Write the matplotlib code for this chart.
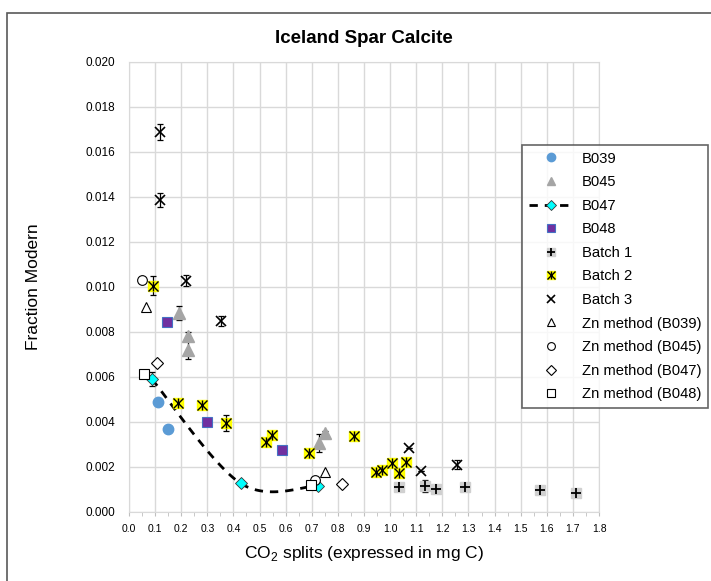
import numpy as np
import matplotlib
matplotlib.use("Agg")
import matplotlib.pyplot as plt
from matplotlib.patches import Rectangle

plt.rcParams['font.family'] = ['Liberation Sans', 'DejaVu Sans']
plt.rcParams['mathtext.fontset'] = 'custom'
plt.rcParams['mathtext.rm'] = 'Liberation Sans'

# data
b039_x = [0.110, 0.148]
b039_y = [0.00488, 0.00369]

b045_x = [0.190, 0.227, 0.226, 0.729, 0.751]
b045_y = [0.00885, 0.00780, 0.00722, 0.00305, 0.00352]
b045_err = [0.0003, 0.0002, 0.0004, 0.0004, 0.0001]

b047_x = [0.088, 0.428, 0.725]
b047_y = [0.00590, 0.00127, 0.00117]
b047_err = [0.0003, 0.0, 0.0]

b048_x = [0.147, 0.298, 0.587]
b048_y = [0.00843, 0.00399, 0.00274]

batch1_x = [1.034, 1.135, 1.174, 1.287, 1.575, 1.712]
batch1_y = [0.00110, 0.00114, 0.00104, 0.00110, 0.00098, 0.00083]
batch1_err = [0.0, 0.00027, 0.0, 0.0, 0.0, 0.0]

batch2_x = [0.091, 0.186, 0.280, 0.372, 0.524, 0.547, 0.690, 0.862,
            0.945, 0.968, 1.006, 1.034, 1.060]
batch2_y = [0.01006, 0.00483, 0.00476, 0.00394, 0.00310, 0.00340, 0.00264,
            0.00339, 0.00176, 0.00185, 0.00216, 0.00175, 0.00220]
batch2_err = [0.00043, 0.0001, 0.0001, 0.00036, 0.0001, 0.0001, 0.0001,
              0.0001, 0.0001, 0.0001, 0.0001, 0.0001, 0.0001]

batch3_x = [0.119, 0.119, 0.217, 0.352, 1.073, 1.118, 1.256]
batch3_y = [0.01690, 0.01387, 0.01028, 0.00850, 0.00286, 0.00182, 0.00209]
batch3_err = [0.00036, 0.0003, 0.00025, 0.00023, 0.0, 0.0, 0.0002]

zn039_x = [0.065, 0.751]
zn039_y = [0.00910, 0.00179]
zn045_x = [0.051, 0.713]
zn045_y = [0.01030, 0.00142]
zn047_x = [0.106, 0.815]
zn047_y = [0.00660, 0.00123]
zn048_x = [0.057, 0.697]
zn048_y = [0.00612, 0.00120]


def smooth_line(xs, ys, n=60):
    # Excel-like smoothed line: cubic bezier between points
    p = np.column_stack([xs, ys])
    out = []
    for i in range(len(p) - 1):
        p0 = p[i - 1] if i > 0 else p[i]
        p1 = p[i]
        p2 = p[i + 1]
        p3 = p[i + 2] if i + 2 < len(p) else p[i + 1]
        c1 = p1 + (p2 - p0) / 6
        c2 = p2 - (p3 - p1) / 6
        t = np.linspace(0, 1, n)[:, None]
        seg = ((1 - t) ** 3) * p1 + 3 * ((1 - t) ** 2) * t * c1 + 3 * (1 - t) * t ** 2 * c2 + t ** 3 * p2
        out.append(seg)
    out = np.vstack(out)
    return out[:, 0], out[:, 1]


fig = plt.figure(figsize=(7.11, 5.81), dpi=100)
ax = fig.add_axes([0.1814, 0.1188, 0.6611, 0.7745])

ekw = dict(ecolor='black', elinewidth=0.9, capsize=2.5, capthick=0.9, linestyle='none', zorder=3)

ax.errorbar(b045_x, b045_y, yerr=b045_err, **ekw)
ax.errorbar(b047_x, b047_y, yerr=b047_err, **ekw)
ax.errorbar(batch1_x, batch1_y, yerr=batch1_err, **ekw)
ax.errorbar(batch2_x, batch2_y, yerr=batch2_err, **ekw)
ax.errorbar(batch3_x, batch3_y, yerr=batch3_err, **ekw)

h039, = ax.plot(b039_x, b039_y, 'o', color='#5B9BD5', ms=7.5, mec='#5B9BD5', zorder=4)
h045, = ax.plot(b045_x, b045_y, '^', color='#A5A5A5', ms=8, mec='#A5A5A5', zorder=4)
sx, sy = smooth_line(b047_x, b047_y)
ln047, = ax.plot(sx, sy, color='black', lw=2, dashes=(3, 2.5), zorder=3)
m047, = ax.plot(b047_x, b047_y, 'D', color='#00FFFF', ms=6, mec='#333333', mew=0.6, zorder=4)
h048, = ax.plot(b048_x, b048_y, 's', color='#7030A0', ms=7, mec='#4472C4', mew=0.8, zorder=4)

b1a, = ax.plot(batch1_x, batch1_y, 's', color='#D0D0D0', ms=7, mec='#D0D0D0', zorder=4)
b1b, = ax.plot(batch1_x, batch1_y, '+', color='black', ms=7, mew=1.3, zorder=5)
b2a, = ax.plot(batch2_x, batch2_y, 's', color='#FFFF00', ms=7.5, mec='#FFFF00', zorder=4)
b2b, = ax.plot(batch2_x, batch2_y, 'x', color='black', ms=6.5, mew=1.0, zorder=5)
b2c, = ax.plot(batch2_x, batch2_y, '|', color='black', ms=7, mew=1.0, zorder=5)
h3, = ax.plot(batch3_x, batch3_y, 'x', color='black', ms=7, mew=1.2, zorder=5)

z1, = ax.plot(zn039_x, zn039_y, '^', mfc='white', mec='black', ms=7, mew=0.8, zorder=4)
z2, = ax.plot(zn045_x, zn045_y, 'o', mfc='white', mec='black', ms=7, mew=0.8, zorder=4)
z3, = ax.plot(zn047_x, zn047_y, 'D', mfc='white', mec='black', ms=6, mew=0.8, zorder=4)
z4, = ax.plot(zn048_x, zn048_y, 's', mfc='white', mec='black', ms=7.5, mew=0.8, zorder=4)

ax.set_xlim(0, 1.8)
ax.set_ylim(0, 0.020)
ax.set_xticks(np.arange(0, 1.81, 0.1))
ax.set_xticks(np.arange(0, 1.81, 0.05), minor=True)
ax.set_yticks(np.arange(0, 0.0201, 0.002))
ax.set_xticklabels(['%.1f' % v for v in np.arange(0, 1.81, 0.1)], fontsize=7.5)
ax.set_yticklabels(['%.3f' % v for v in np.arange(0, 0.0201, 0.002)], fontsize=8.5)
ax.grid(True, color='#D9D9D9', lw=1)
ax.set_axisbelow(True)
for s in ax.spines.values():
    s.set_color('#D9D9D9')
ax.tick_params(axis='y', length=0, pad=10)
ax.tick_params(axis='x', which='both', length=3, color='#BFBFBF', pad=6)

ax.set_title('Iceland Spar Calcite', fontsize=13.5, fontweight='bold', pad=14)
ax.set_xlabel(r'CO$_2$ splits (expressed in mg C)', fontsize=12.5, labelpad=7)
ax.set_ylabel('Fraction Modern', fontsize=12.5, labelpad=32)

handles = [h039, h045, (ln047, m047), h048, (b1a, b1b), (b2a, b2b, b2c), h3, z1, z2, z3, z4]
labels = ['B039', 'B045', 'B047', 'B048', 'Batch 1', 'Batch 2', 'Batch 3',
          'Zn method (B039)', 'Zn method (B045)', 'Zn method (B047)', 'Zn method (B048)']
leg = fig.legend(handles, labels, loc='upper left', bbox_to_anchor=(522 / 711, 1 - 145 / 581),
                 borderaxespad=0, fontsize=10.6, frameon=True, fancybox=False,
                 edgecolor='#404040', labelspacing=0.65, handlelength=3.0, borderpad=0.45,
                 markerscale=0.8, handletextpad=0.6)
leg.get_frame().set_linewidth(1.2)

fig.patches.append(Rectangle((7 / 711, -0.01), 1.0, 1 - 13 / 581 + 0.01, transform=fig.transFigure,
                             fill=False, edgecolor='#595959', lw=1.2))

fig.savefig('out.png', dpi=100)
